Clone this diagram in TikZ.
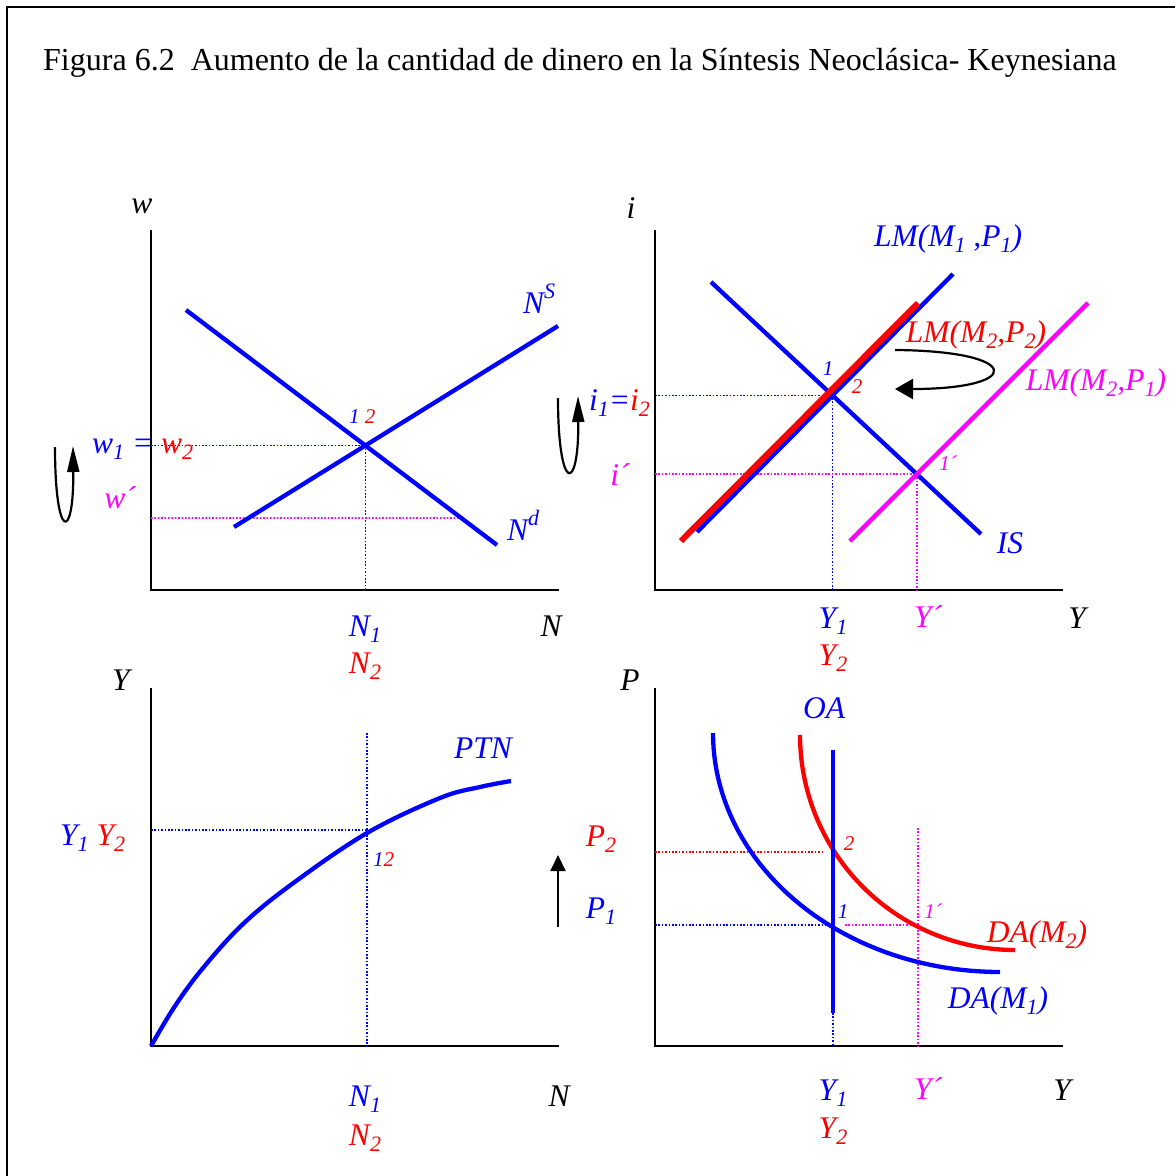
\documentclass[tikz,border=0pt]{standalone}
\usepackage{fontspec}
\setmainfont{Liberation Serif}
\usetikzlibrary{arrows.meta}
\definecolor{cblue}{RGB}{0,0,255}
\definecolor{cred}{RGB}{255,0,0}
\definecolor{cmag}{RGB}{255,0,255}
\newcommand\lsb[1]{\raisebox{-0.22em}{\fontsize{22}{22}\selectfont #1}}
\newcommand\lsp[1]{\raisebox{0.45em}{\fontsize{22}{22}\selectfont #1}}
\begin{document}
\begin{tikzpicture}[x=1pt,y=-1pt,
  axisline/.style={line width=2pt,black},
  curveline/.style={line width=4.3pt},
  guide/.style={line width=1.6pt,dash pattern=on 1.6pt off 1.8pt},
  lab/.style={font=\fontsize{31.5}{31.5}\selectfont\itshape,anchor=base,inner sep=0pt},
  num/.style={font=\fontsize{21}{21}\selectfont\itshape,anchor=base,inner sep=0pt},
  uarrow/.style={line width=2.2pt,black},
]
\useasboundingbox (0,0) rectangle (1175,1176);
\fill[white] (0,0) rectangle (1175,1176);
% frame
\draw[line width=2.2pt] (7,1190) -- (7,7) -- (1180,7);
\node[anchor=base west,inner sep=0pt,font=\fontsize{32}{32}\selectfont] (title) at (43,70)
  {Figura 6.2\ \ Aumento de la cantidad de dinero en la Síntesis Neoclásica- Keynesiana};

%================ top-left: labour market
\coordinate (O1) at (151,590);
\coordinate (T1) at (151,230);
\coordinate (R1) at (559,590);
\draw[axisline] (T1) -- (O1) -- (R1);
\coordinate (nsA) at (234,527);
\coordinate (nsB) at (558,326);
\coordinate (ndA) at (186,310);
\coordinate (ndB) at (497,545);
\coordinate (E1) at (intersection of nsA--nsB and ndA--ndB);
\coordinate (wpL) at (151,518);
\coordinate (wpX) at (600,518);
\coordinate (wpR) at (intersection of ndA--ndB and wpL--wpX);
\draw[guide,cblue] (E1 -| O1) -- (E1) -- (E1 |- O1);
\draw[guide,cmag] (wpL) -- (wpR);
\draw[curveline,cblue] (nsA) -- (nsB);
\draw[curveline,cblue] (ndA) -- (ndB);
\node[lab] (lw) at (142,213) {w};
\node[lab] (lN1) at (551,636) {N};
\node[lab,cblue,anchor=base west] (lNS) at (523,313) {N\lsp{S}};
\node[lab,cblue,anchor=base west] (lNd) at (507,540) {N\lsp{d}};
\node[num,anchor=base west] (l12a) at (349,423) {\color{cblue}1 \color{cred}2};
\node[lab,anchor=base west] (lw12) at (92,453) {\color{cblue}w\lsb{1} = \color{cred}w\lsb{2}};
\node[lab,cmag] (lwp) at (120,508) {w´};
\node[lab,cblue] (lN1a) at (365,636) {N\lsb{1}};
\node[lab,cred] (lN2a) at (365,673) {N\lsb{2}};
\coordinate (ua1s) at (55,447);
\coordinate (ua1e) at (73,446);
\draw[uarrow,-{Triangle[length=26pt,width=12pt]}] (ua1s) .. controls (55,542) and (74,542) .. (ua1e);

%================ top-right: IS-LM
\coordinate (O2) at (655,590);
\coordinate (T2) at (655,230);
\coordinate (R2) at (1063,590);
\draw[axisline] (T2) -- (O2) -- (R2);
\coordinate (isA) at (711,282);
\coordinate (isB) at (981,534);
\coordinate (lm1A) at (697,532);
\coordinate (lm1B) at (953,274);
\coordinate (lm2A) at (681,541);
\coordinate (lm2B) at (918,303);
\coordinate (lmmA) at (850,541);
\coordinate (lmmB) at (1088,303);
\coordinate (E2) at (intersection of isA--isB and lm1A--lm1B);
\coordinate (E3) at (intersection of isA--isB and lmmA--lmmB);
\draw[guide,cblue] (E2 -| O2) -- (E2) -- (E2 |- O2);
\draw[guide,cmag] (E3 -| O2) -- (E3) -- (E3 |- O2);
\draw[curveline,cblue] (isA) -- (isB);
\draw[curveline,cblue] (lm1A) -- (lm1B);
\draw[line width=6pt,cred] (lm2A) -- (lm2B);
\draw[curveline,cmag] (lmmA) -- (lmmB);
\node[lab] (li) at (631,218) {i};
\node[lab] (lY1) at (1077,628) {Y};
\node[lab,cblue] (lLM1) at (948,246) {LM(M\lsb{1} ,P\lsb{1})};
\node[lab,cred] (lLM2) at (976,342) {LM(M\lsb{2},P\lsb{2})};
\node[lab,cmag] (lLMm) at (1096,390) {LM(M\lsb{2},P\lsb{1})};
\node[lab,cblue] (lIS) at (1010,553) {IS};
\node[num,cblue] (l1b) at (828,375) {1};
\node[num,cred] (l2b) at (857,393) {2};
\node[num,cmag] (l1p) at (948,470) {1´};
\node[lab,anchor=base west] (li12) at (589,410) {\color{cblue}i\lsb{1}=\color{cred}i\lsb{2}};
\node[lab,cmag] (lip) at (620,485) {i´};
\node[lab,cblue] (lY1a) at (833,628) {Y\lsb{1}};
\node[lab,cred] (lY2a) at (833,665) {Y\lsb{2}};
\node[lab,cmag] (lYpa) at (928,627) {Y´};
\coordinate (ua2s) at (558,398);
\coordinate (ua2e) at (578,396);
\draw[uarrow,-{Triangle[length=26pt,width=12pt]}] (ua2s) .. controls (558,494) and (579,494) .. (ua2e);
\coordinate (ca1) at (895,350);
\coordinate (ca2) at (895,389);
\draw[uarrow,-{Triangle[length=18pt,width=20pt]}] (ca1) .. controls (1024,351) and (1024,389) .. (ca2);

%================ bottom-left: production function
\coordinate (O3) at (151,1046);
\coordinate (T3) at (151,688);
\coordinate (R3) at (559,1046);
\draw[axisline] (T3) -- (O3) -- (R3);
\coordinate (E4) at (367,830);
\coordinate (E4t) at (367,733);
\draw[guide,cblue] (E4 -| O3) -- (E4);
\draw[guide,cblue] (E4t) -- (E4t |- O3);
\draw[curveline,cblue] plot[smooth,tension=0.6] coordinates {(151,1046) (175,1006) (203,968) (243,924) (292,884) (367,833) (440,798) (480,787) (511,781)};
\node[lab] (lY3) at (121,690) {Y};
\node[lab] (lN3) at (559,1106) {N};
\node[lab,cblue] (lPTN) at (483,758) {PTN};
\node[lab,anchor=base west] (lY12) at (60,845) {\color{cblue}Y\lsb{1} \color{cred}Y\lsb{2}};
\node[num,anchor=base west] (l12c) at (373,866) {\color{cblue}1\color{cred}2};
\node[lab,cblue] (lN1c) at (365,1106) {N\lsb{1}};
\node[lab,cred] (lN2c) at (365,1145) {N\lsb{2}};
\coordinate (pa1) at (558,927);
\coordinate (pa2) at (558,855);
\draw[uarrow,-{Triangle[length=16pt,width=15pt]}] (pa1) -- (pa2);
\node[lab,cred] (lP2) at (601,846) {P\lsb{2}};
\node[lab,cblue] (lP1) at (601,918) {P\lsb{1}};

%================ bottom-right: AD-AS
\coordinate (O4) at (655,1046);
\coordinate (T4) at (655,688);
\coordinate (R4) at (1063,1046);
\draw[axisline] (T4) -- (O4) -- (R4);
\coordinate (oaT) at (833,750);
\coordinate (oaB) at (833,1013);
\coordinate (E5) at (833,925);
\coordinate (E6) at (833,852);
\coordinate (E6r) at (823,852);
\coordinate (E7) at (918,925);
\coordinate (E7t) at (918,828);
\coordinate (E7m) at (845,925);
\draw[guide,cblue] (E5 -| O4) -- (E5);
\draw[guide,cblue] (oaB) -- (oaB |- O4);
\draw[guide,cred] (E6 -| O4) -- (E6r);
\draw[guide,cmag] (E7m) -- (E7);
\draw[guide,cmag] (E7t) -- (E7t |- O4);
\draw[curveline,cblue] plot[domain=0:90,samples=50] ({1000-287*cos(\x)},{733+239*sin(\x)});
\draw[curveline,cred] plot[domain=0:90,samples=50] ({1015-215*cos(\x)},{735+215*sin(\x)});
\draw[curveline,cblue] (oaT) -- (oaB);
\node[lab] (lP4) at (630,690) {P};
\node[lab] (lY4) at (1062,1100) {Y};
\node[lab,cblue] (lOA) at (824,718) {OA};
\node[num,cred] (l2d) at (849,850) {2};
\node[num,cblue] (l1d) at (843,918) {1};
\node[num,cmag] (l1pd) at (933,918) {1´};
\node[lab,cred] (lDA2) at (1037,942) {DA(M\lsb{2})};
\node[lab,cblue] (lDA1) at (998,1008) {DA(M\lsb{1})};
\node[lab,cblue] (lY1d) at (833,1100) {Y\lsb{1}};
\node[lab,cred] (lY2d) at (833,1138) {Y\lsb{2}};
\node[lab,cmag] (lYpd) at (928,1099) {Y´};
\end{tikzpicture}
\end{document}
